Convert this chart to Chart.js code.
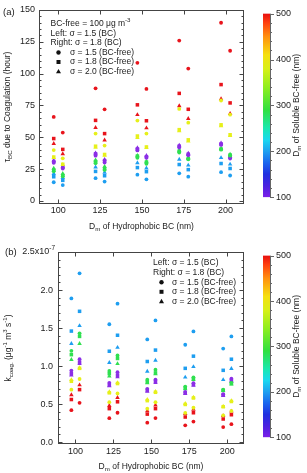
<!DOCTYPE html>
<html>
<head>
<meta charset="utf-8">
<script src="https://cdn.jsdelivr.net/npm/chart.js@4.4.1/dist/chart.umd.min.js"></script>
<style>
html, body { margin: 0; padding: 0; background: #fff; }
#wrap { position: relative; width: 307px; height: 473px; }
canvas { position: absolute; left: 0; }
</style>
</head>
<body>
<div id="wrap">
  <canvas id="chartTau" width="307" height="237" style="top:0"></canvas>
  <canvas id="chartK" width="307" height="236" style="top:237px"></canvas>
</div>
<script>
var FONT = '"Liberation Sans", Arial, sans-serif';
var INK = '#222';
var FRAME = '#444';
var TICK_SIZE = 9;

var xGroups = [100, 125, 150, 175, 200];
var dmValues = [100, 200, 300, 400, 500];
var dmColors = ['#8b2ee6', '#1e9ef0', '#30e050', '#e6f01a', '#e8141c'];
var tauTicks = [0, 25, 50, 75, 100, 125, 150];
var kTicks = [0, 0.5, 1.0, 1.5, 2.0, 2.5];
var cbTicks = [100, 200, 300, 400, 500];
var xShift = 2.7;

// tau_BC (hour); rows = Dm of BC-free 100..500 nm, columns = xGroups
var tauLeftCircle = [
  [30, 35.6, 39.7, 42, 44],
  [14.7, 17.9, 20.6, 21.7, 22.6],
  [23.3, 29.7, 33.9, 38, 40.3],
  [40, 52.9, 63.1, 72.3, 78.9],
  [66, 88.5, 108.5, 126, 140]
];
var tauLeftSquare = [
  [31, 37, 40.8, 43, 44.8],
  [19, 23.2, 26.2, 28.6, 29.4],
  [24.2, 30.9, 35.2, 39.1, 40.8],
  [34.5, 43, 51, 56, 59.8],
  [49, 63.3, 75.5, 84.5, 91.4]
];
var tauLeftTriangle = [
  [31.6, 37.5, 41.7, 43.7, 45.5],
  [21.4, 26.6, 29.9, 32.6, 33.9],
  [25.6, 32.1, 35.7, 39.7, 41.2],
  [33.9, 42, 49.6, 55, 59],
  [45, 57.6, 67.7, 74.7, 80.2]
];
var tauRightCircle = [
  [25.5, 30.2, 33.9, 35.8, 33.3],
  [12.5, 15.2, 17, 19.1, 20],
  [19.4, 24.4, 29.2, 32.7, 35.6],
  [33.5, 43.5, 52.9, 61.5, 67.8],
  [53.7, 72, 88, 104, 118]
];
var tauRightSquare = [
  [26.5, 31.6, 34.7, 36.7, 34.3],
  [16.2, 19.8, 23, 24.6, 25.5],
  [20, 25.3, 30.5, 33.3, 36.1],
  [28.8, 36.5, 42.4, 48, 52],
  [40.5, 52.9, 63, 72, 77]
];
var tauRightTriangle = [
  [27, 32.5, 35.6, 37.3, 34.7],
  [18.2, 22.3, 25.8, 28, 28.8],
  [21.5, 27, 31, 33.9, 36.6],
  [28.5, 35.8, 41.8, 47, 51.2],
  [37, 47.7, 57.3, 64.6, 68.6]
];

// k_coag (x1e-7 ug-1 m3 s-1); rows = Dm 100..500 nm, columns = xGroups
var kLeftCircle = [
  [0.94, 0.78, 0.70, 0.66, 0.63],
  [1.89, 1.55, 1.35, 1.28, 1.23],
  [1.20, 0.935, 0.82, 0.73, 0.69],
  [0.69, 0.525, 0.44, 0.384, 0.352],
  [0.42, 0.314, 0.256, 0.221, 0.198]
];
var kLeftSquare = [
  [0.90, 0.75, 0.68, 0.645, 0.62],
  [1.46, 1.195, 1.06, 0.97, 0.944],
  [1.15, 0.90, 0.79, 0.71, 0.68],
  [0.80, 0.648, 0.545, 0.495, 0.465],
  [0.56, 0.44, 0.368, 0.33, 0.304]
];
var kLeftTriangle = [
  [0.88, 0.74, 0.666, 0.635, 0.61],
  [1.295, 1.045, 0.93, 0.853, 0.82],
  [1.085, 0.866, 0.778, 0.70, 0.675],
  [0.82, 0.66, 0.56, 0.505, 0.47],
  [0.62, 0.48, 0.41, 0.372, 0.346]
];
var kRightCircle = [
  [1.09, 0.92, 0.82, 0.775, 0.834],
  [2.22, 1.82, 1.60, 1.455, 1.39],
  [1.43, 1.14, 0.953, 0.85, 0.78],
  [0.83, 0.64, 0.525, 0.452, 0.41],
  [0.517, 0.386, 0.316, 0.27, 0.236]
];
var kRightSquare = [
  [1.05, 0.88, 0.80, 0.757, 0.81],
  [1.72, 1.405, 1.21, 1.13, 1.09],
  [1.39, 1.10, 0.91, 0.834, 0.77],
  [0.97, 0.77, 0.655, 0.58, 0.534],
  [0.69, 0.53, 0.44, 0.386, 0.36]
];
var kRightTriangle = [
  [1.03, 0.856, 0.78, 0.745, 0.80],
  [1.53, 1.244, 1.075, 0.99, 0.966],
  [1.295, 1.03, 0.896, 0.82, 0.76],
  [0.975, 0.78, 0.665, 0.59, 0.543],
  [0.75, 0.585, 0.485, 0.43, 0.405]
];

// rainbow colour bar, value -> colour
var cbStops = [
  [100, '#7b1fe8'], [125, '#4a22e0'], [150, '#2030e0'], [175, '#1a66ee'],
  [200, '#1ea0f0'], [225, '#1ad8f0'], [250, '#1ae8b0'], [290, '#30e040'],
  [340, '#90ee20'], [380, '#d8f018'], [410, '#f5e010'], [450, '#ff9010'],
  [480, '#ff4010'], [500, '#e81010']
];

var shapeStyles = ['circle', 'rect', 'triangle'];
var shapeRadius = [1.9, 2.5, 2.6];

function makeDatasets(leftTables, rightTables) {
  var sets = [];
  [[leftTables, -xShift], [rightTables, xShift]].forEach(function (side) {
    side[0].forEach(function (table, s) {
      var pts = [], cols = [];
      table.forEach(function (row, d) {
        row.forEach(function (v, g) {
          pts.push({ x: xGroups[g] + side[1], y: v });
          cols.push(dmColors[d]);
        });
      });
      sets.push({
        data: pts,
        pointStyle: shapeStyles[s],
        pointRadius: shapeRadius[s],
        backgroundColor: cols,
        borderColor: cols,
        borderWidth: 0,
        showLine: false
      });
    });
  });
  return sets;
}

// text with sub (1) / superscript (2) pieces
function richText(ctx, parts, x, y, align, size) {
  var widths = parts.map(function (p) {
    ctx.font = (p[1] ? size * 0.72 : size) + 'px ' + FONT;
    return ctx.measureText(p[0]).width;
  });
  var total = widths.reduce(function (a, b) { return a + b; }, 0);
  var cx = align === 'center' ? x - total / 2 : (align === 'right' ? x - total : x);
  ctx.textAlign = 'left';
  ctx.textBaseline = 'middle';
  parts.forEach(function (p, i) {
    ctx.font = (p[1] ? size * 0.72 : size) + 'px ' + FONT;
    var dy = p[1] === 1 ? size * 0.32 : (p[1] === 2 ? -size * 0.42 : 0);
    ctx.fillText(p[0], cx, y + dy);
    cx += widths[i];
  });
}

function rotText(ctx, parts, x, y, size) {
  ctx.save();
  ctx.translate(x, y);
  ctx.rotate(-Math.PI / 2);
  richText(ctx, parts, 0, 0, 'center', size);
  ctx.restore();
}

function drawMarker(ctx, shape, x, y) {
  ctx.beginPath();
  if (shape === 0) {
    ctx.arc(x, y, 2.2, 0, Math.PI * 2);
  } else if (shape === 1) {
    ctx.rect(x - 2, y - 2, 4, 4);
  } else {
    ctx.moveTo(x, y - 2.6); ctx.lineTo(x + 2.5, y + 1.8); ctx.lineTo(x - 2.5, y + 1.8); ctx.closePath();
  }
  ctx.fill();
}

function panelPlugin(o) {
  return {
    id: 'panel_' + o.name,
    afterDraw: function (chart) {
      var ctx = chart.ctx, a = chart.chartArea;
      var sx = chart.scales.x, sy = chart.scales.y, cb = chart.scales.cb;
      var L = Math.round(a.left) + 0.5, R = Math.round(a.right) - 0.5;
      var T = Math.round(a.top) + 0.5, B = Math.round(a.bottom) - 0.5;
      ctx.save();
      ctx.strokeStyle = FRAME;
      ctx.lineWidth = 1;
      ctx.strokeRect(L, T, R - L, B - T);
      ctx.beginPath();
      xGroups.forEach(function (v) {
        var px = Math.round(sx.getPixelForValue(v)) + 0.5;
        ctx.moveTo(px, B); ctx.lineTo(px, B - 4);
        ctx.moveTo(px, T); ctx.lineTo(px, T + 4);
      });
      for (var i = 0; i <= o.minorCount; i++) {
        var v = i * o.yMinor;
        var len = i % o.minorPerMajor === 0 ? 4 : 2;
        var py = Math.round(sy.getPixelForValue(v)) + 0.5;
        ctx.moveTo(L, py); ctx.lineTo(L + len, py);
        ctx.moveTo(R, py); ctx.lineTo(R - len, py);
      }
      ctx.stroke();

      // colour bar
      var y100 = cb.getPixelForValue(100), y500 = cb.getPixelForValue(500);
      var g = ctx.createLinearGradient(0, y100, 0, y500);
      cbStops.forEach(function (s) { g.addColorStop((s[0] - 100) / 400, s[1]); });
      ctx.fillStyle = g;
      ctx.fillRect(263, y500, 7, y100 - y500);
      ctx.strokeStyle = '#666';
      ctx.beginPath();
      ctx.moveTo(270.5, y500); ctx.lineTo(270.5, y100);
      for (var j = 0; j <= 20; j++) {
        var cy = Math.round(cb.getPixelForValue(100 + j * 20)) + 0.5;
        ctx.moveTo(270, cy); ctx.lineTo(270 + (j % 5 === 0 ? 4 : 2), cy);
      }
      ctx.stroke();
      ctx.fillStyle = INK;
      cbTicks.forEach(function (v) {
        richText(ctx, [[String(v), 0]], 276, cb.getPixelForValue(v), 'left', TICK_SIZE);
      });
      rotText(ctx, [['D', 0], ['m', 1], [' of Soluble BC-free (nm)', 0]], 297, (y100 + y500) / 2, 8.5);

      // axis titles and panel tag
      richText(ctx, [['D', 0], ['m', 1], [' of Hydrophobic BC (nm)', 0]], (a.left + a.right) / 2, o.xTitleY, 'center', 8.5);
      rotText(ctx, o.yTitle, o.yTitleX, (a.top + a.bottom) / 2, 8.5);
      richText(ctx, [[o.tag, 0]], o.tagX, o.tagY, 'left', 9.5);
      if (o.topLabel) {
        richText(ctx, o.topLabel, a.left - 3, sy.getPixelForValue(kTicks[kTicks.length - 1]), 'right', TICK_SIZE);
      }

      // legend text
      o.legendLines.forEach(function (parts, n) {
        richText(ctx, parts, o.legX, o.legY + n * o.legStep, 'left', 8.5);
      });
      var rows = ['\u03c3 = 1.5 (BC-free)', '\u03c3 = 1.8 (BC-free)', '\u03c3 = 2.0 (BC-free)'];
      var y0 = o.legY + o.legendLines.length * o.legStep;
      rows.forEach(function (txt, n) {
        ctx.fillStyle = '#111';
        drawMarker(ctx, n, o.markX, y0 + n * o.legStep);
        ctx.fillStyle = INK;
        richText(ctx, [[txt, 0]], o.rowX, y0 + n * o.legStep, 'left', 8.5);
      });
      ctx.restore();
    }
  };
}

function makeChart(id, o) {
  return new Chart(document.getElementById(id), {
    type: 'scatter',
    data: { datasets: makeDatasets(o.left, o.right) },
    options: {
      responsive: false,
      animation: false,
      events: [],
      layout: { padding: { top: o.top, right: 63, left: 0, bottom: 0 } },
      plugins: { legend: { display: false }, tooltip: { enabled: false } },
      scales: {
        x: {
          type: 'linear', min: 88.5, max: 211,
          grid: { display: false, drawTicks: false },
          border: { display: false },
          ticks: { color: INK, font: { family: FONT, size: TICK_SIZE }, padding: o.xPad, maxRotation: 0 },
          afterBuildTicks: function (s) { s.ticks = xGroups.map(function (v) { return { value: v }; }); },
          afterFit: function (s) { s.height = o.xAxisH; }
        },
        y: {
          type: 'linear', min: o.yMin, max: o.yMax,
          grid: { display: false, drawTicks: false },
          border: { display: false },
          ticks: { color: INK, font: { family: FONT, size: TICK_SIZE }, padding: o.yPad, callback: o.yLabel },
          afterBuildTicks: function (s) { s.ticks = o.yTicks.map(function (v) { return { value: v }; }); },
          afterFit: function (s) { s.width = o.yAxisW; }
        },
        cb: { type: 'linear', position: 'right', display: false, min: 85, max: 508 }
      }
    },
    plugins: [panelPlugin(o)]
  });
}

makeChart('chartTau', {
  name: 'tau',
  left: [tauLeftCircle, tauLeftSquare, tauLeftTriangle],
  right: [tauRightCircle, tauRightSquare, tauRightTriangle],
  top: 10, xAxisH: 33, yAxisW: 39, xPad: 1, yPad: 4,
  yMin: -2.4, yMax: 150, yTicks: tauTicks,
  yLabel: function (v) { return v; },
  yMinor: 5, minorPerMajor: 5, minorCount: 30,
  yTitle: [['\u03c4', 0], ['BC', 1], [' due to Coagulation (hour)', 0]],
  yTitleX: 8, xTitleY: 227, tag: '(a)', tagX: 3, tagY: 12,
  legendLines: [
    [['BC-free = 100 \u03bcg m', 0], ['-3', 2]],
    [['Left: \u03c3 = 1.5 (BC)', 0]],
    [['Right: \u03c3 = 1.8 (BC)', 0]]
  ],
  legX: 50.5, legY: 24, legStep: 9.5, markX: 58.5, rowX: 70
});

makeChart('chartK', {
  name: 'k',
  left: [kLeftCircle, kLeftSquare, kLeftTriangle],
  right: [kRightCircle, kRightSquare, kRightTriangle],
  top: 15, xAxisH: 29, yAxisW: 58, xPad: 2, yPad: 5,
  yMin: -0.025, yMax: 2.5, yTicks: kTicks,
  yLabel: function (v) { return v === 2.5 ? '' : v.toFixed(1); },
  yMinor: 0.1, minorPerMajor: 5, minorCount: 25,
  topLabel: [['2.5x10', 0], ['-7', 2]],
  yTitle: [['k', 0], ['coag.', 1], [' (\u03bcg', 0], ['-1', 2], [' m', 0], ['3', 2], [' s', 0], ['-1', 2], [')', 0]],
  yTitleX: 9, xTitleY: 230, tag: '(b)', tagX: 5, tagY: 15,
  legendLines: [
    [['Left: \u03c3 = 1.5 (BC)', 0]],
    [['Right: \u03c3 = 1.8 (BC)', 0]]
  ],
  legX: 153, legY: 26, legStep: 9.6, markX: 161.5, rowX: 172
});
</script>
</body>
</html>
